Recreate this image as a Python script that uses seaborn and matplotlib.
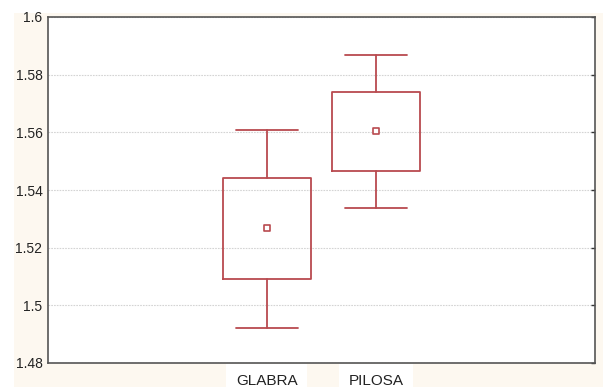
# ==========================================
# Import Libraries
# ==========================================

import numpy as np
import pandas as pd
import matplotlib
matplotlib.use("Agg")
import matplotlib.pyplot as plt
from matplotlib.patches import Rectangle
import seaborn as sns

# ==========================================
# Data
# ==========================================

groups = ["GLABRA", "PILOSA"]
means = [1.5267, 1.5605]
box_low = [1.5091, 1.5466]
box_high = [1.5440, 1.5740]
whisker_low = [1.4922, 1.5336]
whisker_high = [1.5608, 1.5868]

x_tick_labels = ["", "GLABRA", "PILOSA", ""]
y_ticks = [1.48, 1.5, 1.52, 1.54, 1.56, 1.58, 1.6]
y_labels = ["1.48", "1.5", "1.52", "1.54", "1.56", "1.58", "1.6"]

# ==========================================
# Style
# ==========================================

sns.set_style("white")
plt.rcParams["font.family"] = ["Liberation Sans", "DejaVu Sans"]

red = "#b94a4f"
cream = "#fdf8f0"

# ==========================================
# Plot
# ==========================================

fig = plt.figure(figsize=(6.03, 3.87), dpi=100)
fig.patch.set_facecolor("white")
fig.patches.append(Rectangle((14 / 603, 0), 1, 1 - 13 / 387,
                             transform=fig.transFigure, facecolor=cream,
                             edgecolor="none", zorder=-10))

ax = fig.add_axes([48 / 603, 1 - 363 / 387, 547 / 603, 346 / 387])
ax.set_facecolor("white")

# the axis runs 0..5, the two groups sit at 2 and 3
positions = [2, 3]

stats = []
for i, g in enumerate(groups):
    stats.append({
        "label": g,
        "med": means[i],
        "q1": box_low[i],
        "q3": box_high[i],
        "whislo": whisker_low[i],
        "whishi": whisker_high[i],
        "fliers": [],
    })

line_kw = dict(color=red, linewidth=1.3)
ax.bxp(stats, positions=positions, widths=0.8, showfliers=False,
       boxprops=line_kw, whiskerprops=line_kw, capprops=line_kw,
       medianprops=dict(linewidth=0), capwidths=0.57)

df = pd.DataFrame({"pos": positions, "mean": means})
sns.scatterplot(data=df, x="pos", y="mean", marker="s", s=22,
                facecolor="white", edgecolor=red, linewidth=1.2,
                ax=ax, zorder=5)

# ==========================================
# Axes
# ==========================================

ax.set_xlim(0, 5)
ax.set_ylim(1.48, 1.6)
ax.set_xticks([1, 2, 3, 4])
ax.set_xticklabels(x_tick_labels)
ax.set_yticks(y_ticks)
ax.set_yticklabels(y_labels)
ax.set_xlabel("")
ax.set_ylabel("")

ax.grid(axis="y", color="#d4d4d4", linestyle=(0, (1.5, 1)), linewidth=0.8)
ax.set_axisbelow(True)

for side in ["left", "right", "top", "bottom"]:
    ax.spines[side].set_visible(True)
    ax.spines[side].set_color("#555555")
    ax.spines[side].set_linewidth(1.2)

ax.tick_params(axis="both", direction="in", length=3, width=1,
               color="#333333", labelsize=10, labelcolor="#222222")
ax.tick_params(axis="y", right=True, pad=4)
ax.tick_params(axis="x", pad=8, labelsize=11)

for lab in ax.get_xticklabels():
    lab.set_bbox(dict(facecolor="white", edgecolor="none", pad=7))

plt.savefig("out.png", dpi=100, facecolor=fig.get_facecolor())
